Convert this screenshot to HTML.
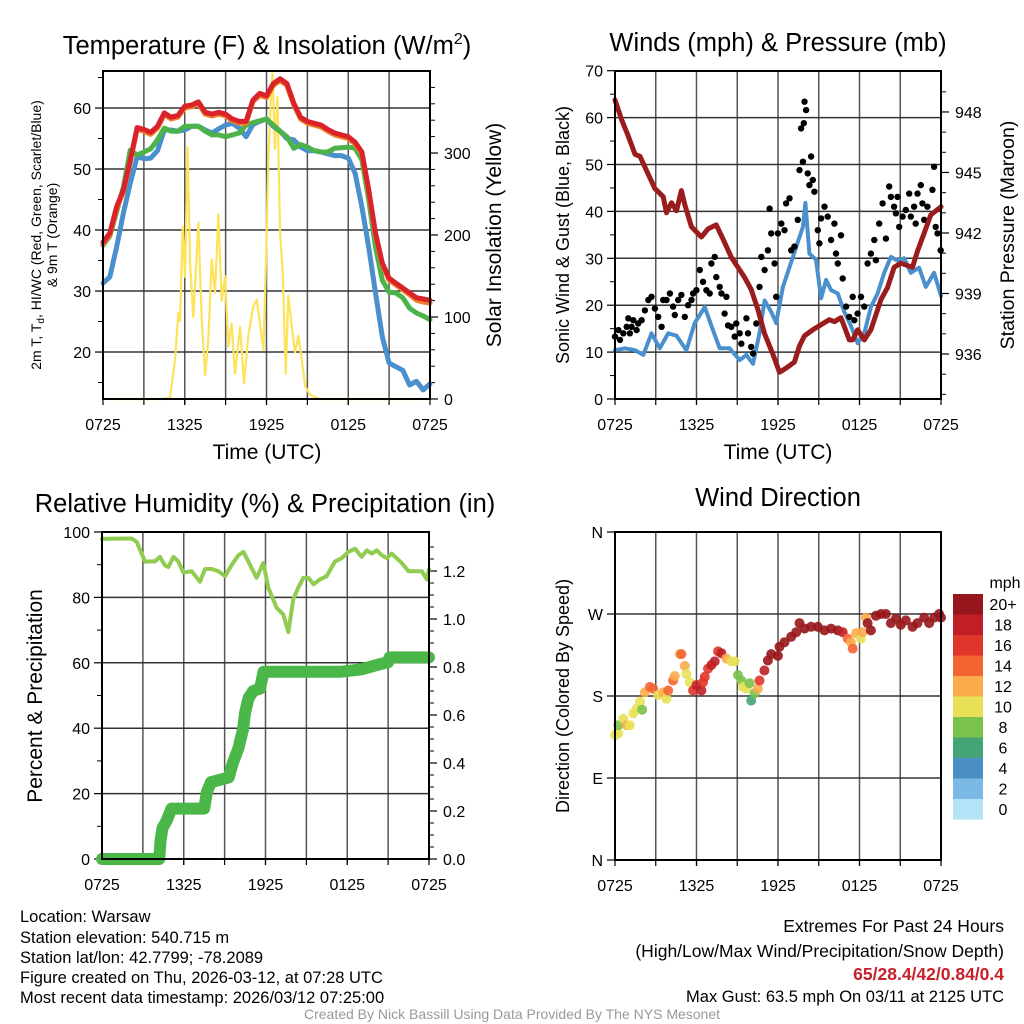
<!DOCTYPE html>
<html><head><meta charset="utf-8"><style>
html,body{margin:0;padding:0;background:#fff}
svg{display:block;font-family:"Liberation Sans",Arial,sans-serif}
</style></head><body>
<svg id="c" width="1024" height="1024" viewBox="0 0 1024 1024" xmlns="http://www.w3.org/2000/svg">
<rect width="1024" height="1024" fill="#fff"/>
<g font-size="25.5" text-anchor="middle" fill="#000">
<text x="267" y="54">Temperature (F) &amp; Insolation (W/m<tspan font-size="16" dy="-10">2</tspan><tspan dy="10">)</tspan></text>
<text x="778" y="51">Winds (mph) &amp; Pressure (mb)</text>
<text x="265" y="512">Relative Humidity (%) &amp; Precipitation (in)</text>
<text x="778" y="506">Wind Direction</text>
</g>
<g font-size="21" text-anchor="middle">
<text x="267" y="459">Time (UTC)</text>
<text x="778" y="459">Time (UTC)</text>
<text transform="translate(501,235) rotate(-90)">Solar Insolation (Yellow)</text>
<text transform="translate(1014,235) rotate(-90)" font-size="19.5">Station Pressure (Maroon)</text>
<text transform="translate(569,235) rotate(-90)" font-size="18">Sonic Wind &amp; Gust (Blue, Black)</text>
<text transform="translate(42,696) rotate(-90)" font-size="21">Percent &amp; Precipitation</text>
<text transform="translate(569,696) rotate(-90)" font-size="18">Direction (Colored By Speed)</text>
</g>
<g font-size="14" text-anchor="middle">
<text transform="translate(41,235) rotate(-90)">2m T, T<tspan font-size="10" dy="3">d</tspan><tspan dy="-3">, HI/WC (Red, Green, Scarlet/Blue)</tspan></text>
<text transform="translate(57,235) rotate(-90)">&amp; 9m T (Orange)</text>
</g>
<g font-size="16.5" fill="#000">
<text x="20" y="922">Location: Warsaw</text>
<text x="20" y="943">Station elevation: 540.715 m</text>
<text x="20" y="963">Station lat/lon: 42.7799; -78.2089</text>
<text x="20" y="983">Figure created on Thu, 2026-03-12, at 07:28 UTC</text>
<text x="20" y="1003">Most recent data timestamp: 2026/03/12 07:25:00</text>
</g>
<g font-size="17.5" text-anchor="end">
<text x="1004" y="932">Extremes For Past 24 Hours</text>
<text x="1004" y="957">(High/Low/Max Wind/Precipitation/Snow Depth)</text>
<text x="1004" y="980" fill="#c8202a" font-weight="bold">65/28.4/42/0.84/0.4</text>
<text x="1004" y="1002" font-size="16.5">Max Gust: 63.5 mph On 03/11 at 2125 UTC</text>
</g>
<text x="512" y="1019" font-size="14" fill="#999" text-anchor="middle">Created By Nick Bassill Using Data Provided By The NYS Mesonet</text>
</svg>
<script>
const xTickLabels=['0725','1325','1925','0125','0725'];
const xTickHours=[0,6,12,18,24];
const tHalf=[0,0.5,1,1.5,2,2.5,3,3.5,4,4.5,5,5.5,6,6.5,7,7.5,8,8.5,9,9.5,10,10.5,11,11.5,12,12.5,13,13.5,14,14.5,15,15.5,16,16.5,17,17.5,18,18.5,19,19.5,20,20.5,21,21.5,22,22.5,23,23.5,24];
const tempRed=[38,39.5,43.8,46.6,51.5,56.8,56.5,56,57,59.2,58.5,58.8,60.3,60.5,61,59.3,59,59.3,59,58.2,57.8,57.8,61.3,62.4,62,64,64.8,64,60.8,58.5,57.8,57.5,57.2,56.5,55.9,55.6,55.3,54.4,52.8,46.6,39.5,34.6,32.1,31.3,30.5,29.7,28.9,28.7,28.5];
const temp9m=[37.7,39.2,43.5,46.3,51.2,56.5,56.2,55.7,56.7,58.9,58.2,58.5,60,60.2,60.7,59,58.7,59,58.7,57.9,57.5,57.5,61,62.1,61.7,63.7,64.5,63.7,60.5,58.2,57.5,57.2,56.9,56.2,55.6,55.3,55,54.1,52.5,46.3,39.2,34.3,31.8,31,30.2,29.4,28.5,28.2,28.0];
const heatIndex=[37.5,39,43,47,53.1,52.3,52.8,53.3,54.8,56.7,56.2,56.2,57,57,57,56.2,55.6,55.6,55.3,55.6,55.9,57.2,57.6,57.9,58.2,57.2,56.2,55.3,53.4,54,53.6,53,52.8,52.8,53.4,53.5,53.6,53.4,51.5,45,37.2,31.8,29.8,29.7,28.9,27.2,26.4,25.9,25.3];
const dewpoint=[31.3,32.3,37.2,42.8,47.7,52,51.7,51.8,53,56.4,56.4,56.2,56.4,57,57,56.4,55.9,56.6,57.2,57.5,56.7,55.3,57.3,57.8,58.2,57,56.2,55,54.8,53.6,53,53,52.8,52.5,52.2,52.2,51.8,49.3,43.8,37.2,29.7,22.5,18.2,17.6,17,14.6,15.2,13.8,14.8];
const solarT=[0,4.5,4.92,5.29,5.53,5.65,5.85,6.02,6.21,6.39,6.63,7.0,7.24,7.49,7.73,7.98,8.22,8.47,8.71,8.96,9.2,9.44,9.69,10.06,10.35,10.67,11.03,11.28,11.52,11.77,11.96,12.14,12.31,12.45,12.62,12.8,12.99,13.19,13.41,13.6,13.85,14.09,14.34,14.58,14.83,15.19,15.93,24];
const solarV=[0,0,2,48,105,95,210,149,307,165,100,215,100,29,72,170,130,225,120,150,64,92,31,88,19,78,113,121,92,60,170,292,361,397,305,368,204,155,31,126,89,57,77,49,16,5,0,0];
const presT=[0,0.49,0.98,1.47,1.84,2.32,2.94,3.55,3.79,4.16,4.53,4.89,5.14,5.63,6.36,6.85,7.46,7.95,8.56,9.05,9.54,10.03,10.52,11.01,11.62,12.11,12.6,13.21,13.58,13.95,14.56,15.29,15.78,16.15,16.64,17.25,17.5,17.86,18.35,18.84,19.58,20.07,20.55,21.04,21.9,22.27,22.76,23.25,24];
const presV=[948.6,947.6,946.8,945.9,945.8,945.1,944.2,943.8,943.0,943.5,943.1,944.1,943.4,942.3,941.8,942.2,942.4,941.7,940.8,940.3,939.8,939.2,938.2,937.0,936.0,935.1,935.3,935.6,936.4,936.9,937.2,937.5,937.7,937.6,937.8,936.7,936.7,937.2,936.7,937.2,938.7,939.3,940.3,940.5,940.3,941.1,942.0,942.9,943.3];
const windT=[0,0.73,1.47,2.08,2.69,3.3,3.92,4.53,5.26,5.87,6.61,7.1,7.71,8.44,9.18,9.67,10.16,10.64,11.01,11.5,11.87,12.36,12.85,13.34,13.83,14.02,14.31,14.8,15.17,15.54,15.91,16.4,16.88,17.37,17.86,18.35,18.84,19.33,19.82,20.31,20.8,21.29,21.78,22.39,22.88,23.49,24];
const windV=[10.4,10.8,10.4,9.4,14,10.8,14,13.5,10.4,16.2,19.6,15.6,10.8,10.8,8.3,9.4,7.5,14,21,18.6,16.2,23.9,28.1,32.4,36.7,41.8,31,29.7,21.5,25.4,23.2,22.5,18.6,15.6,11.9,14,19.6,22.5,26.9,30.3,29.5,30,26.9,28,23.9,26.9,22];
const gustT=[0,0.25,0.37,0.61,0.86,0.98,1.1,1.22,1.35,1.59,1.71,1.96,2.2,2.45,2.69,2.94,3.18,3.43,3.55,3.79,4.04,4.28,4.4,4.65,4.89,5.14,5.38,5.63,5.75,5.99,6.24,6.48,6.73,6.97,7.1,7.34,7.46,7.71,7.83,8.2,8.07,8.32,8.56,8.81,8.93,9.18,9.3,9.67,9.79,10.03,10.16,10.4,10.64,10.77,11.01,11.26,11.38,11.5,11.75,11.87,11.99,12.24,12.48,12.6,12.85,12.97,13.21,13.46,13.58,13.7,13.83,13.9,13.95,14.07,14.19,14.31,14.44,14.56,14.68,14.93,15.05,15.17,15.42,15.66,15.91,16.15,16.27,16.4,16.64,16.76,17.01,17.25,17.5,17.62,17.86,18.11,18.35,18.6,18.84,19.09,19.21,19.45,19.7,19.94,20.19,20.31,20.55,20.68,20.8,20.92,21.17,21.41,21.66,21.78,22.02,22.14,22.27,22.51,22.63,22.76,23.0,23.37,23.49,23.61,23.74,23.98];
const gustV=[13.3,14.7,12.6,14.0,15.4,17.2,14.0,15.4,16.8,14.7,16.1,16.8,18.9,21.1,21.8,19.3,17.5,15.4,21.1,21.1,22.5,19.7,17.9,21.1,22.2,17.5,20.0,21.1,22.5,23.2,27.5,25.0,23.2,22.5,28.9,30.3,26.0,23.9,22.5,21.8,18.2,15.7,15.4,13.3,16.1,14.0,11.8,17.2,14.0,11.1,9.7,16.1,23.9,30.3,27.5,31.7,40.6,35.3,28.9,21.8,35.3,37.4,36.0,41.7,42.8,31.7,32.5,38.2,48.8,57.7,50.6,58.8,63.4,61.6,48.1,45.6,51.7,46.7,44.2,36.0,33.2,38.5,41.0,38.9,33.9,37.4,31.0,28.9,34.9,25.7,19.7,17.5,21.8,16.8,18.2,21.8,19.7,28.9,31.0,33.9,29.6,37.4,41.7,34.2,45.3,43.1,41.0,39.6,43.1,36.7,38.9,40.3,43.8,38.9,41.0,37.4,43.8,45.6,41.7,38.2,41.0,44.6,49.5,36.7,35.3,31.7];
const rhT=[0,2.18,2.55,3.16,3.52,3.89,4.26,4.62,4.87,5.24,5.6,5.97,6.58,7.19,7.56,8.05,8.54,9.03,9.52,10.01,10.38,10.74,11.35,11.84,12.21,12.82,13.31,13.68,14.04,14.41,14.78,15.15,15.52,16.0,16.49,17.1,17.59,18.08,18.57,19.06,19.43,19.8,20.16,20.53,20.9,21.26,21.63,22.0,22.49,22.98,23.47,23.84,24];
const rhV=[97.9,98,97,90.9,91,91,92.4,89.8,89.3,92.4,91,87.6,88,84.8,88.7,88.7,88,86.5,89.9,92.9,93.9,91,86,90.5,82.9,76.8,74.8,69.4,79.5,83,86,86,84,85.5,86.5,91,92,93.9,94.9,92.4,94.4,93.4,94.4,92.9,92,93.4,92,90.5,88,88,88,85.5,88.6];
const precipT=[0,4.2,4.3,4.45,4.75,5.1,7.5,7.7,8.0,9.3,9.6,10.0,10.35,10.5,10.75,11.1,11.6,11.85,17.5,19,20.3,21,21.1,24];
const precipV=[0,0,0.08,0.13,0.16,0.21,0.21,0.28,0.32,0.34,0.4,0.46,0.54,0.61,0.67,0.7,0.71,0.78,0.78,0.79,0.81,0.82,0.84,0.84];
const dirT=[0,0.24,0.24,0.61,0.86,1.1,1.35,1.59,1.84,2.0,2.2,2.57,2.81,3.18,3.55,3.79,3.92,4.28,4.4,4.77,4.89,5.14,5.26,5.5,5.75,6.0,6.36,6.48,6.61,6.85,7.1,7.34,7.59,7.83,8.2,8.56,8.81,9.05,9.3,9.42,9.67,9.91,10.03,10.28,10.52,10.64,11.0,11.26,11.5,11.99,12.11,12.48,12.97,13.34,13.58,13.95,14.44,14.93,15.42,15.91,16.4,16.76,17.13,17.37,17.5,17.74,18.1,18.23,18.47,18.6,18.84,19.21,19.58,19.94,20.31,20.68,21.04,21.41,21.9,22.27,22.76,23.13,23.5,23.86,24];
const dirV=[137,139,148,155,148,148,161,166,174,165,184,190,188,181,184,177,186,197,202,226,226,213,204,195,186,192,186,195,201,210,214,218,229,227,221,218,218,203,197,190,188,194,175,183,188,197,208,219,226,224,234,239,245,250,260,254,256,256,252,254,252,250,243,239,232,249,243,250,266,260,252,268,270,270,260,265,258,263,256,260,266,260,266,270,266];
const dirSpeed=[11,11,9,11,13,11,11,11,11,9,13,15,15,11,13,11,15,15,13,13,15,13,11,11,17,19,19,17,17,17,19,19,17,19,13,11,11,9,9,11,11,9,7,9,13,17,19,22,22,22,22,22,22,22,22,22,22,22,22,22,22,19,15,13,15,13,11,13,13,22,22,22,22,22,22,22,22,22,22,22,22,22,22,22,22];
const cbLabels=['20+','18','16','14','12','10','8','6','4','2','0'];
const cbColors=['#97161b','#c01f26','#e0352a','#f26532','#fbab4b','#e8e158','#79c24b','#45a475','#4a8fc6','#7ab9e3','#b5e3f7'];

const svg=document.getElementById('c');
const NS='http://www.w3.org/2000/svg';
function mk(tag,attrs,parent){const e=document.createElementNS(NS,tag);for(const k in attrs)e.setAttribute(k,attrs[k]);(parent||svg).appendChild(e);return e;}
function pathOf(ts,vs,X,Y){return ts.map((t,i)=>(i?'L':'M')+X(t).toFixed(1)+','+Y(vs[i]).toFixed(1)).join('');}
function speedColor(s){const i=Math.min(10,Math.floor(s/2));return cbColors[10-i];}

function panel(name,x0,y0,x1,y1,X,yTicks,Y,yLabels,minor){
  const g=mk('g',{});
  
  
  for(let h=3;h<24;h+=3){const l=mk('line',{x1:X(h),x2:X(h),y1:y0,y2:y1,stroke:'#555','stroke-width':1.5},g);}
  yTicks.forEach((v,i)=>{const y=Y(v);const l=mk('line',{x1:x0,x2:x1,y1:y,y2:y,stroke:'#333','stroke-width':1.5},g);
    mk('line',{x1:x0-8,x2:x0,y1:y,y2:y,stroke:'#000','stroke-width':1.2},g);
    if(yLabels){const t=mk('text',{x:x0-12,y:y+6,'font-size':16,'text-anchor':'end'},g);t.textContent=yLabels[i];}});
  (minor||[]).forEach(v=>{const y=Y(v);mk('line',{x1:x0-5,x2:x0,y1:y,y2:y,stroke:'#000','stroke-width':1},g);});
  xTickHours.forEach((h,i)=>{const x=X(h);mk('line',{x1:x,x2:x,y1:y1,y2:y1+6,stroke:'#000','stroke-width':1.2},g);
    const t=mk('text',{x:x,y:y1+31,'font-size':16,'text-anchor':'middle'},g);t.textContent=xTickLabels[i];});
  for(let h=3;h<24;h+=3)mk('line',{x1:X(h),x2:X(h),y1:y1,y2:y1+6,stroke:'#000','stroke-width':1.2},g);
  return g;
}
function frame(name,x0,y0,x1,y1){const r=mk('rect',{x:x0,y:y0,width:x1-x0,height:y1-y0,fill:'none',stroke:'#000','stroke-width':2});}
function rightAxis(name,x1,vals,Y,labels,fmt,minor){const g=mk('g',{});
  vals.forEach((v,i)=>{const y=Y(v);mk('line',{x1:x1,x2:x1+8,y1:y,y2:y,stroke:'#000','stroke-width':1.2},g);const t=mk('text',{x:x1+14,y:y+6,'font-size':16},g);t.textContent=labels[i];});
  (minor||[]).forEach(v=>{const y=Y(v);mk('line',{x1:x1,x2:x1+5,y1:y,y2:y,stroke:'#000','stroke-width':1},g);});}
function line(name,ts,vs,X,Y,color,w){const p=mk('path',{d:pathOf(ts,vs,X,Y),fill:'none',stroke:color,'stroke-width':w,'stroke-linejoin':'round','stroke-linecap':'round'});}

// Panel 1
const X1=t=>103+t/24*327, YT=v=>399-(v-12.3)*6.1, YS=v=>399-v*0.82;
panel('temperature',103,71,430,399,X1,[20,30,40,50,60],YT,['20','30','40','50','60'],[15,25,35,45,55,65]);
rightAxis('solar-axis',430,[0,100,200,300],YS,['0','100','200','300'],null,[20,40,60,80,120,140,160,180,220,240,260,280,320,340,360,380]);
line('solar-insolation-line',solarT,solarV,X1,YS,'#fde35a',2.2);
line('dewpoint-line',tHalf,dewpoint,X1,YT,'#4a90cc',5);
line('heat-index-line',tHalf,heatIndex,X1,YT,'#4bb34a',5);
line('temp-9m-line',tHalf,temp9m,X1,YT,'#f07f29',5);
line('temp-2m-line',tHalf,tempRed,X1,YT,'#d9222a',5);
frame('temperature',103,71,430,399);

// Panel 2
const X2=t=>615+t/24*326, YW=v=>399-v*4.69, YP=p=>354-(p-936)*20.17;
panel('winds',615,71,941,399,X2,[0,10,20,30,40,50,60,70],YW,['0','10','20','30','40','50','60','70'],[5,15,25,35,45,55,65]);
rightAxis('pressure-axis',941,[936,939,942,945,948],YP,['936','939','942','945','948'],null,[934,935,937,938,940,941,943,944,946,947,949]);
line('sonic-wind-line',windT,windV,X2,YW,'#4a90cc',4);
gustT.forEach((t,i)=>{const c=mk('circle',{cx:X2(t).toFixed(1),cy:YW(gustV[i]).toFixed(1),r:3.2,fill:'#000'});
  
  });
line('pressure-line',presT,presV,X2,YP,'#9b1c1c',5);
frame('winds',615,71,941,399);

// Panel 3
const X3=t=>102+t/24*327, YR=v=>859-v*3.27, YPR=v=>859-v*240;
panel('humidity',102,532,429,859,X3,[0,20,40,60,80,100],YR,['0','20','40','60','80','100'],[10,30,50,70,90]);
rightAxis('precip-axis',429,[0,0.2,0.4,0.6,0.8,1.0,1.2],YPR,['0.0','0.2','0.4','0.6','0.8','1.0','1.2'],null,[0.05,0.1,0.15,0.25,0.3,0.35,0.45,0.5,0.55,0.65,0.7,0.75,0.85,0.9,0.95,1.05,1.1,1.15,1.25,1.3]);
line('relative-humidity-line',rhT,rhV,X3,YR,'#8fcc50',4);
line('precipitation-line',precipT,precipV,X3,YPR,'#4bb749',12);
frame('humidity',102,532,429,859);

// Panel 4
const X4=t=>615+t/24*326, YD=d=>860-d/360*328;
panel('direction',615,532,941,860,X4,[0,90,180,270,360],YD,['N','E','S','W','N']);
dirT.forEach((t,i)=>{const c=mk('circle',{cx:X4(t).toFixed(1),cy:YD(dirV[i]).toFixed(1),r:5,fill:speedColor(dirSpeed[i]),'fill-opacity':0.9});
  
  });
frame('direction',615,532,941,860);

// colorbar
const cb=mk('g',{});


const mt=mk('text',{x:1005,y:588,'font-size':16,'text-anchor':'middle'},cb);mt.textContent='mph';
cbLabels.forEach((lab,i)=>{const y=594+i*20.5;mk('rect',{x:953,y:y,width:30,height:20.6,fill:cbColors[i]},cb);
  const t=mk('text',{x:1003,y:y+16,'font-size':16,'text-anchor':'middle'},cb);t.textContent=lab;
  
  });
</script>
</body></html>
